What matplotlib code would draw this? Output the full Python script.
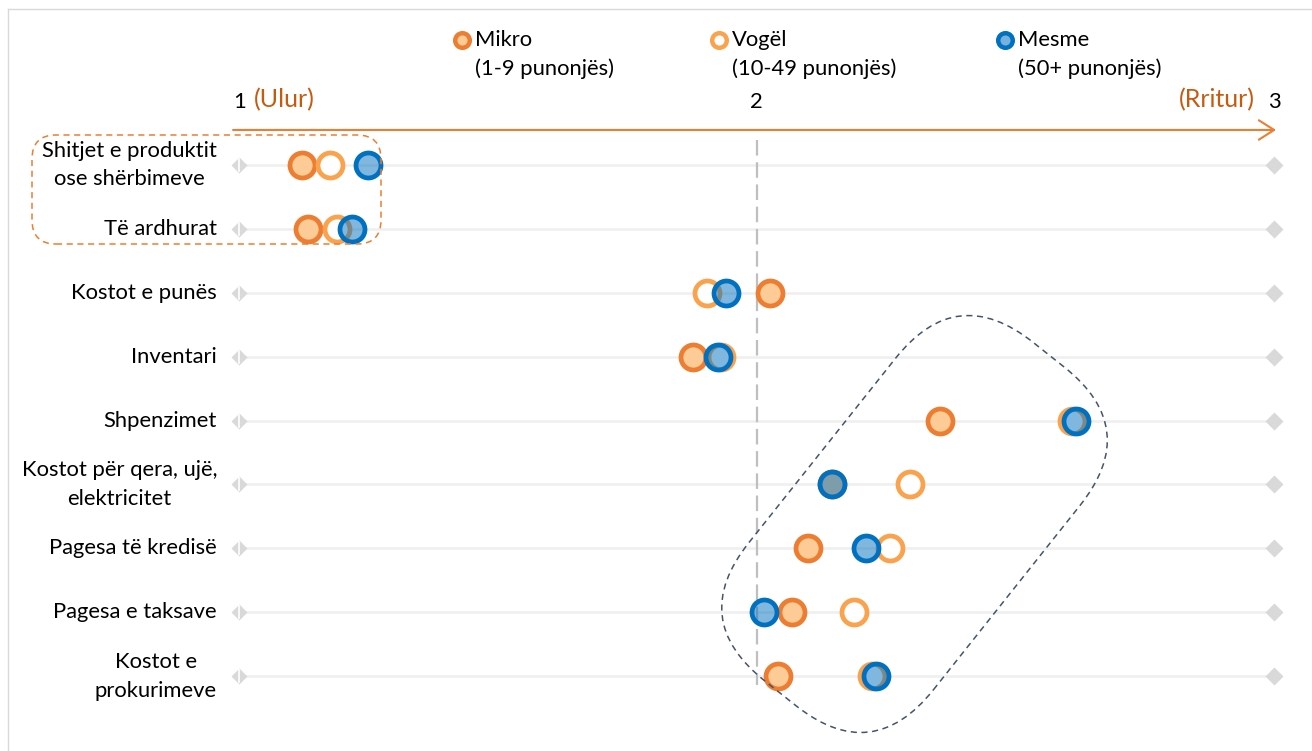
import matplotlib
matplotlib.use('Agg')
import matplotlib.pyplot as plt
from matplotlib.patches import FancyBboxPatch
from matplotlib.transforms import Affine2D, IdentityTransform
from matplotlib.lines import Line2D

# te dhenat
categories = ['Shitjet e produktit\nose shërbimeve', 'Të ardhurat', 'Kostot e punës',
              'Inventari', 'Shpenzimet', 'Kostot për qera, ujë,\nelektricitet',
              'Pagesa të kredisë', 'Pagesa e taksave', 'Kostot e\nprokurimeve']
mikro = [1.121, 1.133, 2.026, 1.877, 2.354, 2.146, 2.099, 2.068, 2.041]
vogel = [1.175, 1.189, 1.905, 1.931, 2.610, 2.296, 2.258, 2.188, 2.223]
mesme = [1.248, 1.217, 1.941, 1.925, 2.617, 2.146, 2.211, 2.014, 2.230]
series_names = ['Mikro\n(1-9 punonjës)', 'Vogël\n(10-49 punonjës)', 'Mesme\n(50+ punonjës)']

plt.rcParams['font.family'] = ['Lato', 'DejaVu Sans']

ORANGE = '#ED7D31'
PEACH = '#FCCB96'
LIGHT_OR = '#FBA24C'
BLUE = '#0070C0'
BLUE_FILL = (0.0, 0.44, 0.75, 0.5)
FS = 15.8

W, H = 1312, 751
fig = plt.figure(figsize=(W / 100, H / 100), dpi=100)
ax = fig.add_axes([0, 0, 1, 1])
ax.set_xlim(0.5375, 3.0735)
ax.set_ylim(9.171, -2.582)
ax.axis('off')

# korniza
fig.add_artist(Line2D([8 / W, 1], [1 - 9 / H, 1 - 9 / H], color='#D9D9D9', lw=1, transform=fig.transFigure))
fig.add_artist(Line2D([8 / W, 8 / W], [0, 1 - 9 / H], color='#D9D9D9', lw=1, transform=fig.transFigure))

for i, cat in enumerate(categories):
    ax.plot([1.0, 3.0], [i, i], color='#EFEFEF', lw=1.8, zorder=1)
    ax.plot(1.0, i, marker='D', ms=8, color='#D9D9D9', mec='none', zorder=2)
    ax.plot(1.0, i, marker='|', ms=10, mew=1.2, color='white', zorder=2)
    ax.plot(3.0, i, marker='D', ms=9, color='#D9D9D9', mec='none', zorder=2)
    ax.text(0.957, i, cat, ha='right', va='center', multialignment='center',
            fontsize=FS, linespacing=1.55, color='black')

# vija e mesit
ax.plot([2, 2], [-0.39, 8.14], color='#BFBFBF', lw=1.6, dashes=(7, 3), zorder=1)

rows = list(range(len(categories)))
ax.plot(mikro, rows, 'o', ms=18, mew=3.4, mec=ORANGE, mfc=PEACH, zorder=3)
ax.plot(vogel, rows, 'o', ms=18, mew=3.4, mec=LIGHT_OR, mfc='white', zorder=4)
ax.plot(mesme, rows, 'o', ms=18, mew=3.4, mec=BLUE, mfc=BLUE_FILL, zorder=5)

# boshti me shigjete
ax.annotate('', xy=(3.004, -0.548), xytext=(0.988, -0.548),
            arrowprops=dict(arrowstyle='->,head_length=1.1,head_width=0.7', color=ORANGE,
                            lw=1.5, shrinkA=0, shrinkB=0))
for v in [1, 2, 3]:
    ax.text(v, -0.986, str(v), ha='center', va='center', fontsize=FS)
ax.text(1.0285, -1.03, '(Ulur)', ha='left', va='center', fontsize=18, color='#C55A11')
ax.text(2.9633, -1.03, '(Rritur)', ha='right', va='center', fontsize=18, color='#C55A11')

# legjenda
leg_x = [462, 719, 1005]
styles = [dict(mec=ORANGE, mfc=PEACH), dict(mec=LIGHT_OR, mfc='white'), dict(mec=BLUE, mfc=(0.47, 0.69, 0.87))]
for x, name, st in zip(leg_x, series_names, styles):
    fig.add_artist(Line2D([x / W], [1 - 40 / H], marker='o', ms=10.5, mew=3.2, transform=fig.transFigure, **st))
    fig.text((x + 13) / W, 1 - 54.5 / H, name, ha='left', va='center', fontsize=FS, linespacing=1.55)

# kutite me vija
box1 = FancyBboxPatch((32, H - 244), 349, 109, boxstyle='round,pad=0,rounding_size=24',
                      transform=IdentityTransform(), fill=False, ec=ORANGE, lw=1.1, ls=(0, (4, 3)))
fig.add_artist(box1)
box2 = FancyBboxPatch((-216, -118), 432, 236, boxstyle='round,pad=0,rounding_size=98',
                      transform=Affine2D().rotate_deg(51.5).translate(914.5, H - 524),
                      fill=False, ec='#44546A', lw=1.1, ls=(0, (4, 3)))
fig.add_artist(box2)

fig.savefig('out.png', dpi=100)
